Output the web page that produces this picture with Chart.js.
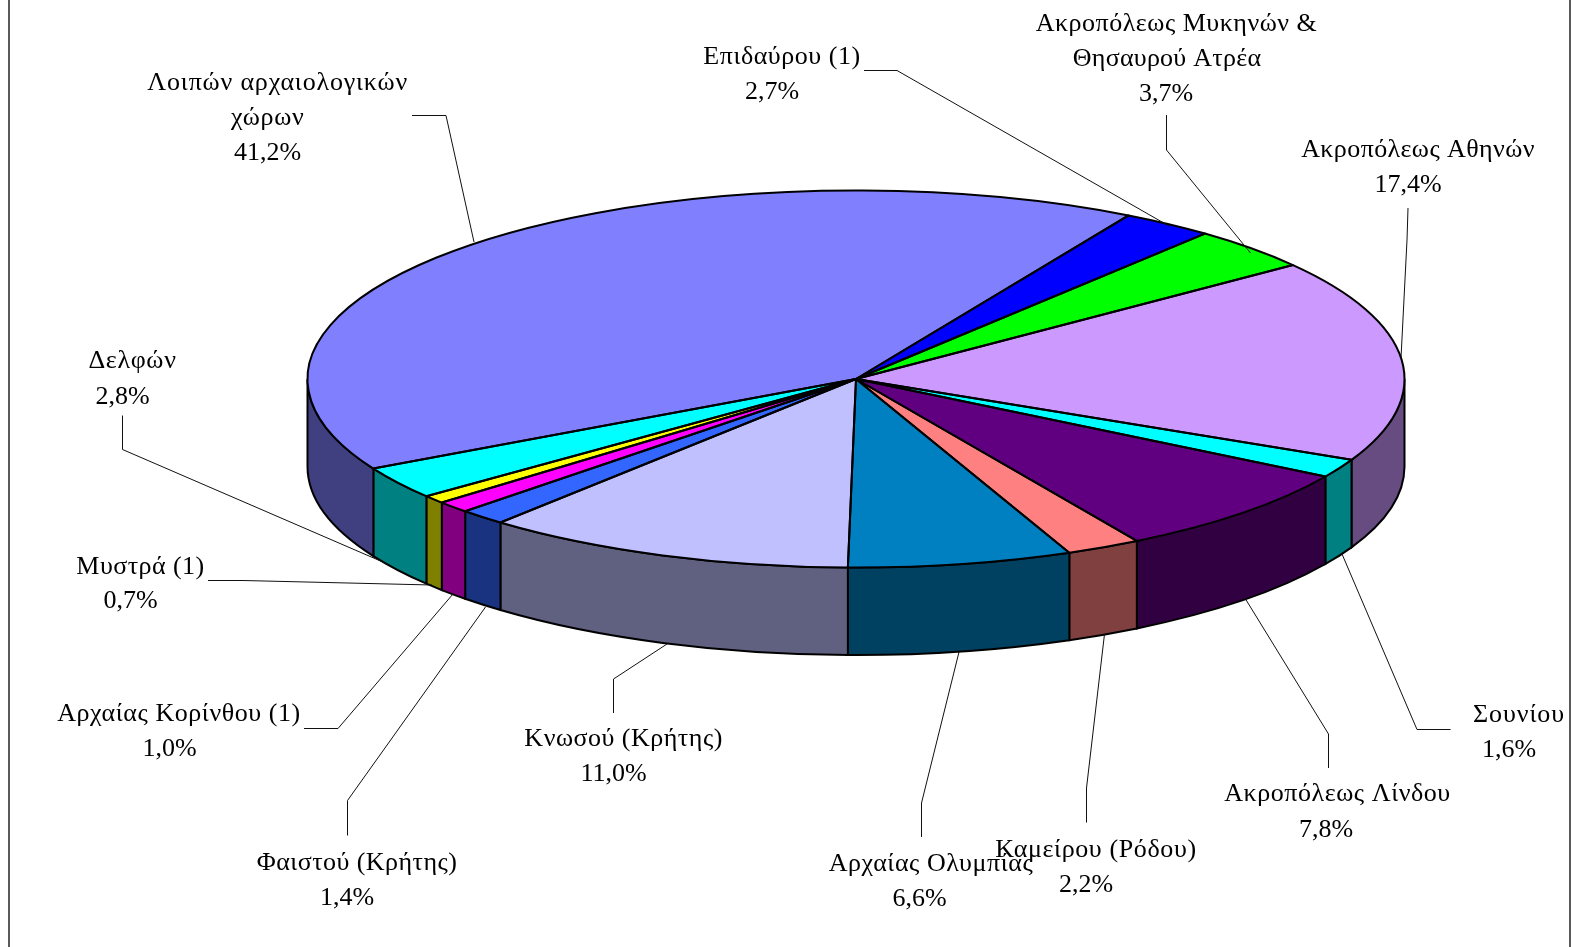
<!DOCTYPE html>
<html>
<head>
<meta charset="utf-8">
<style>html,body{margin:0;padding:0;background:#fff}canvas{display:block}</style>
<script src="https://cdn.jsdelivr.net/npm/chart.js@4"></script>
</head>
<body>
<canvas id="c" width="1572" height="947"></canvas>
<script>
const categories = [
  ["Επιδαύρου (1)"],
  ["Ακροπόλεως Μυκηνών &", "Θησαυρού Ατρέα"],
  ["Ακροπόλεως Αθηνών"],
  ["Σουνίου"],
  ["Ακροπόλεως Λίνδου"],
  ["Καμείρου (Ρόδου)"],
  ["Αρχαίας Ολυμπίας"],
  ["Κνωσού (Κρήτης)"],
  ["Φαιστού (Κρήτης)"],
  ["Αρχαίας Κορίνθου (1)"],
  ["Μυστρά (1)"],
  ["Δελφών"],
  ["Λοιπών αρχαιολογικών", "χώρων"]
];
const shares = [2.7, 3.7, 17.4, 1.6, 7.8, 2.2, 6.6, 11.0, 1.4, 1.0, 0.7, 2.8, 41.2];
const colors = ["#0000FF","#00FF00","#CC99FF","#00FFFF","#600080","#FF8080","#0080C0","#C0C0FF","#3366FF","#FF00FF","#FFFF00","#00FFFF","#8080FF"];
const shadeColors = ["#000080","#008000","#664C80","#008080","#300040","#804040","#004060","#606080","#1A3380","#800080","#808000","#008080","#404080"];

// Layout only: label anchors, fitted name widths and leader-line routes
const labelX = [[782,772],[1176.5,1167,1166],[1418,1408],[1519,1509],[1337.5,1326],[1096,1086],[931,919.5],[623.6,613.6],[357,347],[179,169.5],[140.5,130.5],[132.5,122.5],[277.7,267.7,267.7]];
const labelY = [[64,99],[31,66,101],[157,192],[722,757],[801,836.5],[856.5,891.5],[870.5,906],[746,781],[869.5,905],[721,756],[573.5,608],[368,404],[90,125,160]];
const nameWidths = [[157.4],[281.7,188.5],[233.6],[92],[226.6],[201.5],[204.5],[198.5],[200.5],[243.6],[128.3],[88.2],[260.7,73.5]];
const leaders = [
  [[864,70.5],[897,70.5],[1169,226]],
  [[1166.5,115],[1166.5,150],[1250.5,253]],
  [[1408,208],[1407,240],[1401,358]],
  [[1450.5,729.5],[1417,729.5],[1342,554]],
  [[1328.5,768],[1328.5,734],[1245.5,599]],
  [[1086.5,822.5],[1086.5,788],[1104.5,634]],
  [[921.5,837],[921.5,803],[959,652]],
  [[613.5,713],[613.5,679],[667,644]],
  [[347.5,835.5],[347.5,800.5],[485.5,607]],
  [[304,728.5],[338,728.5],[453,594]],
  [[208,580.5],[243,580.5],[432,585]],
  [[122.5,415.5],[122.5,449.5],[387.5,564]],
  [[412,115.5],[446,115.5],[474,242]]
];

const RX = 548.5, RY = 188.5, DEPTH = 87.5;
const SX = RX / RY;
const FONT = '26px "Liberation Serif"';

const pie3d = {
  id: 'pie3d',
  beforeDatasetsDraw(chart) {
    const ctx = chart.ctx;
    const arcs = chart.getDatasetMeta(0).data;
    ctx.save();
    ctx.fillStyle = '#fff';
    ctx.fillRect(0, 0, chart.width, chart.height);
    ctx.strokeStyle = '#222';
    ctx.lineWidth = 1.5;
    [9, 1570].forEach(x => { ctx.beginPath(); ctx.moveTo(x, 0); ctx.lineTo(x, chart.height); ctx.stroke(); });
    arcs.forEach((el, i) => {
      const a0 = Math.max(el.startAngle, 0), a1 = Math.min(el.endAngle, Math.PI);
      if (a1 <= a0) return;
      const rx = el.outerRadius * SX, ry = el.outerRadius;
      ctx.beginPath();
      ctx.ellipse(el.x, el.y, rx, ry, 0, a0, a1);
      ctx.ellipse(el.x, el.y + DEPTH, rx, ry, 0, a1, a0, true);
      ctx.closePath();
      ctx.fillStyle = shadeColors[i];
      ctx.fill();
      ctx.strokeStyle = '#000';
      ctx.lineWidth = 2;
      ctx.stroke();
    });
    ctx.restore();
  },
  beforeDatasetDraw(chart) {
    const el = chart.getDatasetMeta(0).data[0];
    const ctx = chart.ctx;
    ctx.save();
    ctx.translate(el.x, el.y);
    ctx.scale(SX, 1);
    ctx.translate(-el.x, -el.y);
  },
  afterDatasetDraw(chart) {
    chart.ctx.restore();
  },
  afterDatasetsDraw(chart) {
    const ctx = chart.ctx;
    const arcs = chart.getDatasetMeta(0).data;
    ctx.save();
    ctx.strokeStyle = '#000';
    ctx.lineWidth = 2;
    ctx.lineJoin = 'round';
    arcs.forEach(el => {
      const rx = el.outerRadius * SX, ry = el.outerRadius;
      ctx.beginPath();
      ctx.moveTo(el.x, el.y);
      ctx.lineTo(el.x + rx * Math.cos(el.startAngle), el.y + ry * Math.sin(el.startAngle));
      ctx.ellipse(el.x, el.y, rx, ry, 0, el.startAngle, el.endAngle);
      ctx.closePath();
      ctx.stroke();
    });
    ctx.strokeStyle = '#111';
    ctx.lineWidth = 1;
    leaders.forEach(pts => {
      ctx.beginPath();
      pts.forEach((p, k) => k ? ctx.lineTo(p[0], p[1]) : ctx.moveTo(p[0], p[1]));
      ctx.stroke();
    });
    ctx.fillStyle = '#000';
    ctx.font = FONT;
    ctx.textAlign = 'center';
    ctx.textBaseline = 'alphabetic';
    categories.forEach((lines, i) => {
      lines.forEach((t, k) => {
        ctx.letterSpacing = '0px';
        const extra = (nameWidths[i][k] - ctx.measureText(t).width) / t.length;
        ctx.letterSpacing = extra.toFixed(3) + 'px';
        ctx.fillText(t, labelX[i][k], labelY[i][k]);
      });
      ctx.letterSpacing = '0px';
      const n = lines.length;
      ctx.fillText(shares[i].toFixed(1).replace('.', ',') + '%', labelX[i][n], labelY[i][n]);
    });
    ctx.restore();
  }
};

new Chart(document.getElementById('c'), {
  type: 'pie',
  data: {
    labels: categories.map(l => l.join(' ')),
    datasets: [{ data: shares, backgroundColor: colors, borderWidth: 0, clip: false }]
  },
  options: {
    responsive: false,
    animation: false,
    rotation: 29.8,
    layout: { padding: { left: 140, right: 0, top: 190.5, bottom: 379.5 } },
    plugins: { legend: { display: false }, tooltip: { enabled: false } }
  },
  plugins: [pie3d]
});
</script>
</body>
</html>
